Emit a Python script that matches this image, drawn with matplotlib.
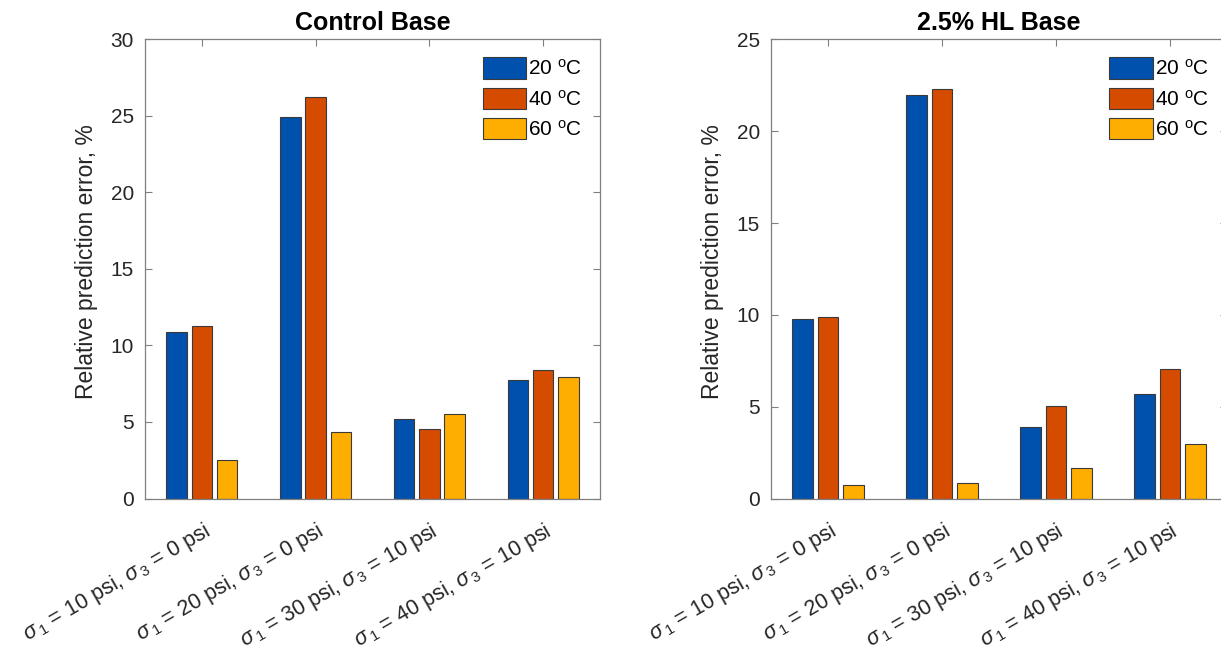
import matplotlib
matplotlib.use("Agg")
import matplotlib.pyplot as plt
import matplotlib.transforms as mtransforms
import numpy as np

# ── Data ─────────────────────────────────────────────────────────
conditions = [
    r"$\sigma_{\,1}$ = 10 psi, $\sigma_{\,3}$ = 0 psi",
    r"$\sigma_{\,1}$ = 20 psi, $\sigma_{\,3}$ = 0 psi",
    r"$\sigma_{\,1}$ = 30 psi, $\sigma_{\,3}$ = 10 psi",
    r"$\sigma_{\,1}$ = 40 psi, $\sigma_{\,3}$ = 10 psi",
]
temps = [r"20 $^\mathrm{o}$C", r"40 $^\mathrm{o}$C", r"60 $^\mathrm{o}$C"]

control_20 = [10.87, 24.95, 5.22, 7.72]
control_40 = [11.26, 26.22, 4.57, 8.37]
control_60 = [2.50, 4.37, 5.50, 7.93]

hl_20 = [9.80, 22.00, 3.89, 5.70]
hl_40 = [9.86, 22.30, 5.02, 7.03]
hl_60 = [0.71, 0.87, 1.66, 2.97]

colours = ["#0051AD", "#D54B00", "#FDAE00"]
spine_col = "#7f7f7f"
text_col = "#262626"

plt.rcParams["font.family"] = ["Liberation Sans", "DejaVu Sans"]
plt.rcParams["mathtext.fontset"] = "custom"
plt.rcParams["mathtext.rm"] = "Liberation Sans"
plt.rcParams["mathtext.it"] = "Liberation Sans:italic"

fig = plt.figure(figsize=(12.21, 6.53), dpi=100)
fig.patch.set_facecolor("white")


def draw_panel(ax, series, title, ymax, ystep):
    x = np.arange(1, len(conditions) + 1)
    offset = 0.222
    width = 0.18
    for i, (vals, col, lab) in enumerate(zip(series, colours, temps)):
        ax.bar(x + (i - 1) * offset, vals, width=width, color=col,
               edgecolor="#3a3a3a", linewidth=0.8, label=lab, zorder=2)

    ax.set_xlim(0.5, len(conditions) + 0.5)
    ax.set_ylim(0, ymax)
    ax.set_yticks(np.arange(0, ymax + 0.1, ystep))
    ax.set_xticks(x)
    ax.set_xticklabels(conditions, rotation=30, ha="right", va="top",
                       rotation_mode="anchor", fontsize=15.5, color=text_col)
    # nudge rotated labels right, like the MATLAB layout
    shift = mtransforms.ScaledTranslation(7 / 100, 0, fig.dpi_scale_trans)
    for lbl in ax.get_xticklabels():
        lbl.set_transform(lbl.get_transform() + shift)

    ax.tick_params(axis="y", labelsize=15, labelcolor=text_col, pad=8)
    ax.tick_params(direction="in", top=True, right=True, color=spine_col,
                   length=5, width=0.8)
    ax.tick_params(axis="x", pad=15)
    for s in ax.spines.values():
        s.set_color(spine_col)
        s.set_linewidth(0.9)

    ax.set_ylabel("Relative prediction error, %", fontsize=16.5, color=text_col)
    ax.yaxis.set_label_coords(-0.103, 0.517)
    ax.set_title(title, fontsize=18, fontweight="bold", pad=7)
    ax.legend(loc="upper right", frameon=False, fontsize=15,
              handlelength=2.1, handleheight=1.2, handletextpad=0.1,
              labelspacing=0.42, borderaxespad=0.45, borderpad=0.4)


ax1 = fig.add_axes([0.1188, 0.2366, 0.3727, 0.703])
draw_panel(ax1, [control_20, control_40, control_60], "Control Base", 30, 5)

ax2 = fig.add_axes([0.6314, 0.2366, 0.3735, 0.703])
draw_panel(ax2, [hl_20, hl_40, hl_60], "2.5% HL Base", 25, 5)

fig.savefig("out.png", dpi=100, facecolor=fig.get_facecolor())
